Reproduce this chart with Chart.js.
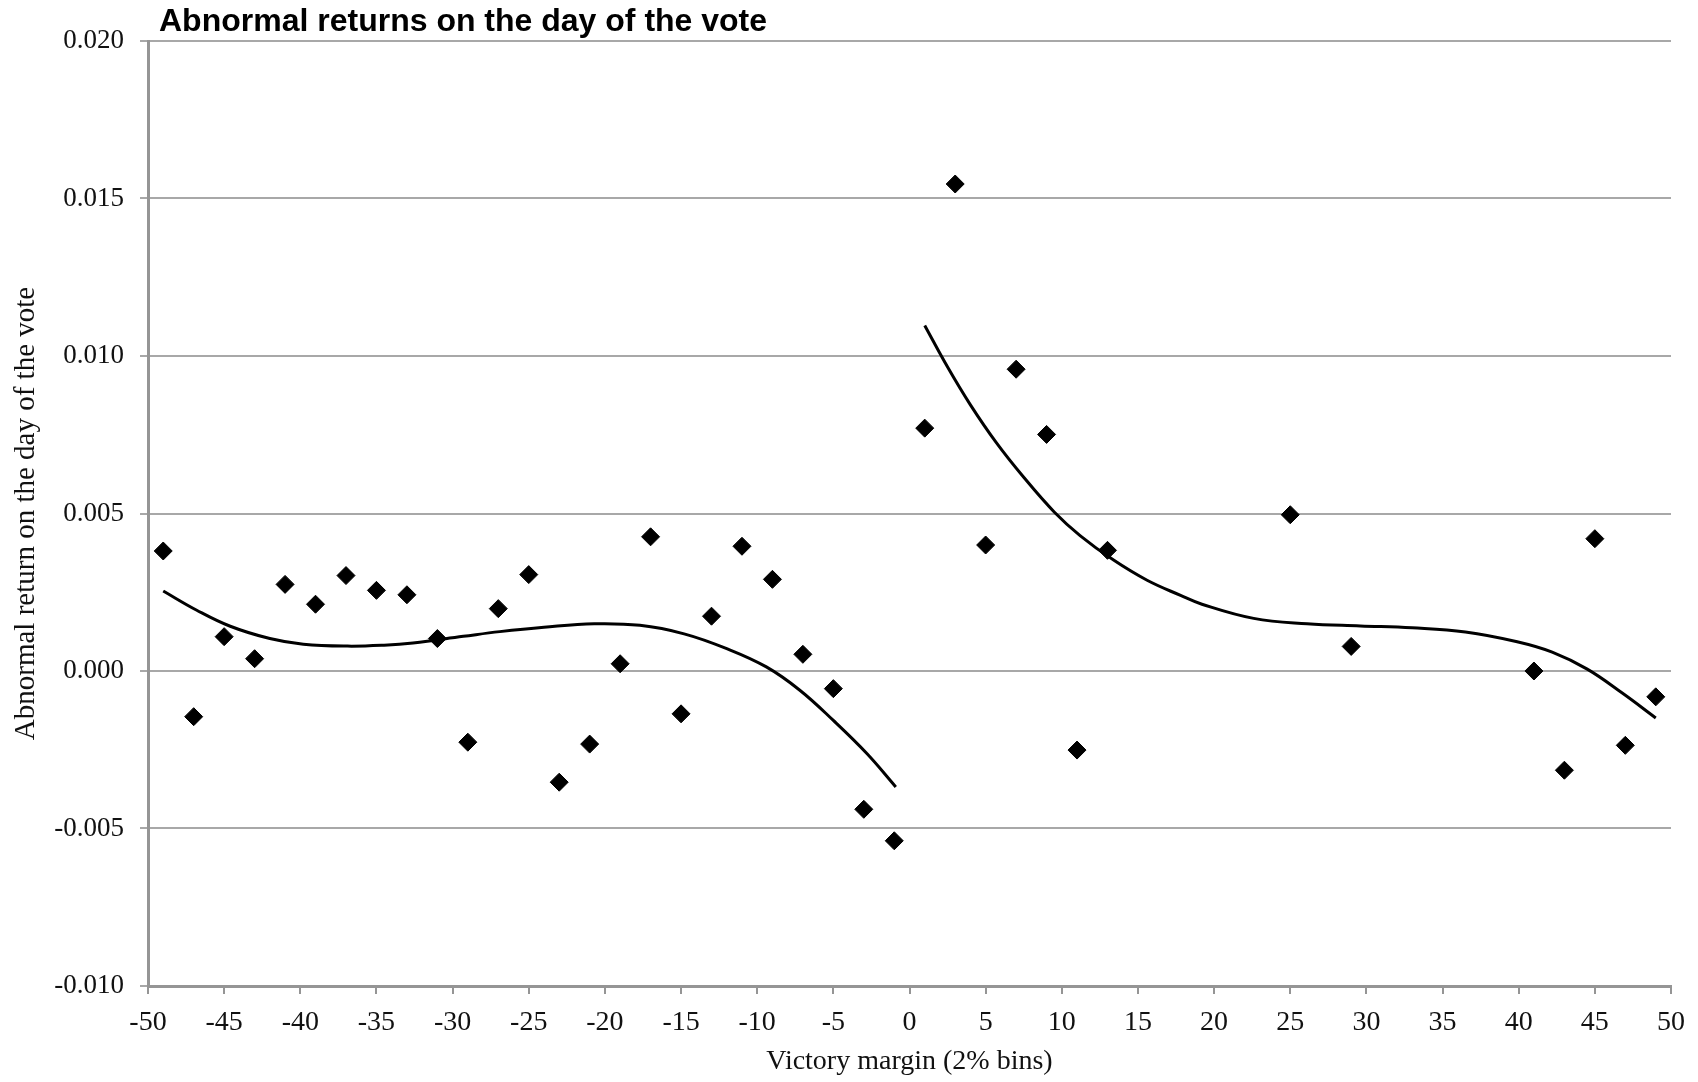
<!DOCTYPE html>
<html>
<head>
<meta charset="utf-8">
<script src="https://cdn.jsdelivr.net/npm/chart.js@4.4.1/dist/chart.umd.min.js"></script>
<style>
  html, body { margin: 0; padding: 0; background: #fff; }
  canvas { display: block; }
</style>
</head>
<body>
<canvas id="chart" width="1698" height="1082"></canvas>
<script>
// binned scatter: victory margin (2% bins) vs abnormal return
const binX = [-49, -47, -45, -43, -41, -39, -37, -35, -33, -31, -29, -27, -25, -23, -21, -19, -17, -15, -13, -11, -9, -7, -5, -3, -1,
    1, 3, 5, 7, 9, 11, 13, 25, 29, 41, 43, 45, 47, 49];
const binReturn = [0.00381, -0.00145, 0.00109, 0.00039, 0.00275, 0.00212, 0.00303, 0.00256, 0.00242, 0.00103, -0.00226, 0.00198, 0.00306,
    -0.00353, -0.00232, 0.00023, 0.00426, -0.00136, 0.00174, 0.00396, 0.00291, 0.00053, -0.00056, -0.00439, -0.00539,
    0.00771, 0.01546, 0.00400, 0.00958, 0.00751, -0.00251, 0.00383, 0.00496, 0.00078, 0.00000, -0.00315, 0.00420, -0.00236, -0.00082];

// fitted curve, left of the cutoff
const leftFitX = [-49, -46.8, -44.6, -42, -39.8, -36.9, -34.5, -32.6, -29.3, -26.9, -24, -20.7, -17.7, -14.8, -12, -9.4, -7.2, -5, -2.8, -0.9];
const leftFitY = [0.00254, 0.00193, 0.00142, 0.00103, 0.00085, 0.00079, 0.00082, 0.00089, 0.00110, 0.00125, 0.00139, 0.00150, 0.00145,
    0.00118, 0.00071, 0.00013, -0.00061, -0.00157, -0.00262, -0.00368];

// fitted curve, right of the cutoff
const rightFitX = [1, 2.5, 4, 5.7, 7.5, 9.5, 11.2, 13.4, 15.6, 17.8, 19.2, 22.6, 26.1, 29.6, 33, 36.5, 39.9, 42.2, 44.5, 46.8, 49];
const rightFitY = [0.01097, 0.00965, 0.00845, 0.00725, 0.00615, 0.00505, 0.00430, 0.00352, 0.00288, 0.00240, 0.00212, 0.00167,
    0.00150, 0.00143, 0.00137, 0.00124, 0.00093, 0.00060, 0.00006, -0.00070, -0.00149];

const xTickValues = [-50, -45, -40, -35, -30, -25, -20, -15, -10, -5, 0, 5, 10, 15, 20, 25, 30, 35, 40, 45, 50];
const yTickValues = [-0.010, -0.005, 0.000, 0.005, 0.010, 0.015, 0.020];

const chartTitle = "Abnormal returns on the day of the vote";
const xTitle = "Victory margin (2% bins)";
const yTitle = "Abnormal return on the day of the vote";

const toPoints = (xs, ys) => xs.map((x, i) => ({ x: x, y: ys[i] }));

const gridGrey = "#a8a8a8";
const axisGrey = "#959595";
const serif = "'Liberation Serif', 'Times New Roman', serif";

const titlePlugin = {
    id: "plainTitle",
    afterDraw(chart) {
        const ctx = chart.ctx;
        ctx.save();
        ctx.font = "bold 32px 'Liberation Sans', Arial, sans-serif";
        ctx.fillStyle = "#000";
        ctx.textBaseline = "middle";
        ctx.textAlign = "left";
        ctx.fillText(chartTitle, chart.chartArea.left + 11, 22);
        ctx.restore();
    }
};

new Chart(document.getElementById("chart"), {
    type: "scatter",
    data: {
        datasets: [
            {
                label: "Bins",
                data: toPoints(binX, binReturn),
                pointStyle: "rectRot",
                pointRadius: 9,
                backgroundColor: "#000",
                borderColor: "#000",
                borderWidth: 1
            },
            {
                label: "Fit left",
                data: toPoints(leftFitX, leftFitY),
                showLine: true,
                pointRadius: 0,
                borderColor: "#000",
                borderWidth: 3,
                tension: 0.4
            },
            {
                label: "Fit right",
                data: toPoints(rightFitX, rightFitY),
                showLine: true,
                pointRadius: 0,
                borderColor: "#000",
                borderWidth: 3,
                tension: 0.4
            }
        ]
    },
    options: {
        responsive: false,
        animation: false,
        layout: {
            padding: { top: 41, right: 27, bottom: 0, left: 0 }
        },
        plugins: {
            legend: { display: false },
            tooltip: { enabled: false },
            title: { display: false }
        },
        scales: {
            x: {
                type: "linear",
                min: -50,
                max: 50,
                afterBuildTicks: (scale) => {
                    scale.ticks = xTickValues.map((v) => ({ value: v }));
                },
                afterFit: (scale) => {
                    scale.height = 96;
                },
                grid: {
                    drawOnChartArea: false,
                    drawTicks: true,
                    tickLength: 8,
                    color: axisGrey,
                    lineWidth: 2
                },
                border: {
                    display: true,
                    color: axisGrey,
                    width: 3
                },
                ticks: {
                    padding: 12,
                    color: "#111",
                    font: { family: serif, size: 28 },
                    callback: (value) => `${value}`
                },
                title: {
                    display: true,
                    text: xTitle,
                    color: "#111",
                    padding: { top: 0, bottom: 4 },
                    font: { family: serif, size: 28 }
                }
            },
            y: {
                type: "linear",
                min: -0.01,
                max: 0.02,
                afterBuildTicks: (scale) => {
                    scale.ticks = yTickValues.map((v) => ({ value: v }));
                },
                afterFit: (scale) => {
                    scale.width = 148;
                },
                grid: {
                    drawTicks: true,
                    tickLength: 8,
                    color: gridGrey,
                    lineWidth: 2
                },
                border: {
                    display: true,
                    color: axisGrey,
                    width: 3
                },
                ticks: {
                    padding: 16,
                    color: "#111",
                    font: { family: serif, size: 27 },
                    callback: (value) => Number(value).toFixed(3)
                },
                title: {
                    display: true,
                    text: yTitle,
                    color: "#111",
                    padding: { top: 9, bottom: 0 },
                    font: { family: serif, size: 29 }
                }
            }
        }
    },
    plugins: [titlePlugin]
});
</script>
</body>
</html>
